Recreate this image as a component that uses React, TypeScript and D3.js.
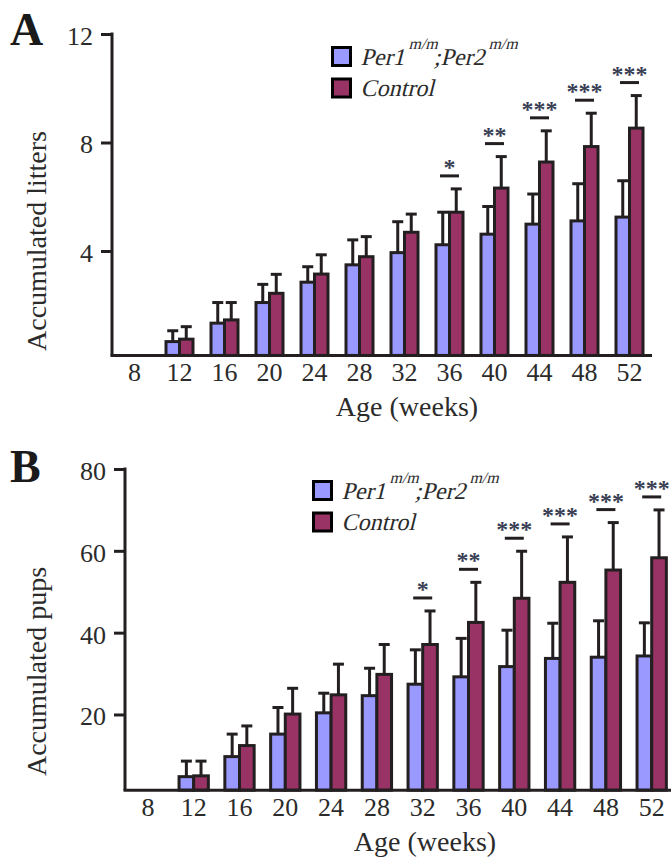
import React, { useEffect, useRef } from 'react';
import * as d3 from 'd3';

// weeks of age
const ages = ['8', '12', '16', '20', '24', '28', '32', '36', '40', '44', '48', '52'];

// panel A: accumulated litters (mean, sem)
const litterMutant = [0, 0.66, 1.34, 2.1, 2.85, 3.49, 3.94, 4.23, 4.62, 4.99, 5.11, 5.25];
const litterMutantSem = [0, 0.4, 0.76, 0.67, 0.57, 0.92, 1.14, 1.2, 1.02, 1.11, 1.37, 1.34];
const litterControl = [0, 0.75, 1.46, 2.44, 3.15, 3.79, 4.69, 5.43, 6.32, 7.28, 7.85, 8.53];
const litterControlSem = [0, 0.46, 0.64, 0.7, 0.71, 0.74, 0.67, 0.86, 1.16, 1.15, 1.23, 1.2];
const litterSig = ['', '', '', '', '', '', '', '*', '**', '***', '***', '***'];
const litterTicks = [4, 8, 12];

// panel B: accumulated pups (mean, sem)
const pupMutant = [0, 4.8, 9.7, 15.2, 20.4, 24.6, 27.4, 29.2, 31.7, 33.7, 34.0, 34.3];
const pupMutantSem = [0, 3.8, 5.5, 6.5, 4.8, 6.7, 8.4, 9.4, 8.9, 8.6, 8.9, 8.1];
const pupControl = [0, 5.0, 12.4, 20.1, 24.8, 29.8, 37.1, 42.5, 48.4, 52.3, 55.3, 58.3];
const pupControlSem = [0, 3.6, 4.8, 6.3, 7.5, 7.3, 8.2, 9.8, 11.5, 11.1, 11.6, 11.7];
const pupSig = ['', '', '', '', '', '', '*', '**', '***', '***', '***', '***'];
const pupTicks = [20, 40, 60, 80];

const MUTANT_COLOR = '#9999ff';
const CONTROL_COLOR = '#993366';
const INK = '#231f20';
const TEXT = '#2b2b2b';
const FONT = "'Liberation Serif', 'DejaVu Serif', serif";

const drawPanel = (svg, p) => {
  const g = svg.append('g').style('font-family', FONT);

  const x = d3.scaleBand()
    .domain(ages)
    .range([p.left, p.right])
    .paddingInner(p.pad)
    .paddingOuter(p.pad / 2);

  const sub = d3.scaleBand()
    .domain(['mutant', 'control'])
    .range([0, x.bandwidth()]);

  const y = d3.scaleLinear()
    .domain([0, p.max])
    .range([p.zeroY, p.topY]);

  const baseY = y(p.floor);

  // y axis ticks + labels
  const yAxis = g.append('g')
    .attr('transform', `translate(${p.left},0)`)
    .call(d3.axisLeft(y).tickValues(p.ticks).tickSize(11).tickPadding(8).tickSizeOuter(0));
  yAxis.select('.domain').remove();
  yAxis.selectAll('line').attr('stroke', INK).attr('stroke-width', 3);
  yAxis.selectAll('text')
    .style('font-family', FONT)
    .style('font-size', '26px')
    .attr('fill', TEXT)
    .attr('dy', '0.4em');

  // x axis labels
  const xAxis = g.append('g')
    .attr('transform', `translate(0,${baseY})`)
    .call(d3.axisBottom(x).tickSize(0).tickPadding(p.xPad));
  xAxis.select('.domain').remove();
  xAxis.selectAll('text')
    .style('font-family', FONT)
    .style('font-size', '26px')
    .attr('fill', TEXT);

  const series = [
    { key: 'mutant', values: p.mutant, sem: p.mutantSem, color: MUTANT_COLOR },
    { key: 'control', values: p.control, sem: p.controlSem, color: CONTROL_COLOR },
  ];

  series.forEach(s => {
    const rows = ages.map((a, i) => ({ age: a, v: s.values[i], e: s.sem[i] })).filter(d => d.v > p.floor);
    const cx = d => x(d.age) + sub(s.key) + sub.bandwidth() / 2;

    // error bars (upper only)
    g.selectAll(`.err-${s.key}`)
      .data(rows)
      .enter().append('line')
      .attr('x1', cx).attr('x2', cx)
      .attr('y1', d => y(d.v)).attr('y2', d => y(d.v + d.e))
      .attr('stroke', INK).attr('stroke-width', 3);
    g.selectAll(`.cap-${s.key}`)
      .data(rows)
      .enter().append('line')
      .attr('x1', d => cx(d) - 5.5).attr('x2', d => cx(d) + 5.5)
      .attr('y1', d => y(d.v + d.e)).attr('y2', d => y(d.v + d.e))
      .attr('stroke', INK).attr('stroke-width', 3);

    g.selectAll(`.bar-${s.key}`)
      .data(rows)
      .enter().append('rect')
      .attr('x', d => x(d.age) + sub(s.key))
      .attr('width', sub.bandwidth())
      .attr('y', d => y(d.v))
      .attr('height', d => baseY - y(d.v))
      .attr('fill', s.color)
      .attr('stroke', INK)
      .attr('stroke-width', 3);
  });

  // significance marks
  const sig = ages.map((a, i) => ({ age: a, s: p.sig[i], top: y(p.control[i] + p.controlSem[i]) })).filter(d => d.s);
  g.selectAll('.sig-line')
    .data(sig)
    .enter().append('line')
    .attr('x1', d => x(d.age) + x.bandwidth() / 2 - 9.5)
    .attr('x2', d => x(d.age) + x.bandwidth() / 2 + 9.5)
    .attr('y1', d => d.top - 13).attr('y2', d => d.top - 13)
    .attr('stroke', INK).attr('stroke-width', 3);
  g.selectAll('.sig-star')
    .data(sig)
    .enter().append('text')
    .attr('x', d => x(d.age) + x.bandwidth() / 2)
    .attr('y', d => d.top - 14)
    .attr('text-anchor', 'middle')
    .style('font-family', FONT)
    .style('font-size', '24px')
    .style('font-weight', 'bold')
    .attr('fill', '#3a3f55')
    .text(d => d.s);

  // axis lines
  g.append('line')
    .attr('x1', p.left).attr('x2', p.left)
    .attr('y1', y(p.max) - 1.5).attr('y2', baseY)
    .attr('stroke', INK).attr('stroke-width', 3);
  g.append('line')
    .attr('x1', p.left - 1.5).attr('x2', p.right)
    .attr('y1', baseY).attr('y2', baseY)
    .attr('stroke', INK).attr('stroke-width', 3);

  // titles
  g.append('text')
    .attr('x', p.xTitle[0]).attr('y', p.xTitle[1])
    .attr('text-anchor', 'middle')
    .style('font-family', FONT)
    .style('font-size', '28px').attr('fill', TEXT)
    .text('Age (weeks)');
  g.append('text')
    .attr('transform', `translate(${p.yTitle[0]},${p.yTitle[1]}) rotate(-90)`)
    .attr('text-anchor', 'middle')
    .style('font-family', FONT)
    .style('font-size', '28px').attr('fill', TEXT)
    .text(p.yLabel);
  g.append('text')
    .attr('x', p.letter[0]).attr('y', p.letter[1])
    .style('font-family', FONT)
    .style('font-size', '46px').style('font-weight', 'bold').attr('fill', '#1a1a1a')
    .text(p.name);

  // legend (serif, slanted by hand)
  const lg = g.append('g').attr('transform', `translate(${p.legend[0]},${p.legend[1]})`);
  [MUTANT_COLOR, CONTROL_COLOR].forEach((c, i) => {
    lg.append('rect')
      .attr('x', 0).attr('y', i * 31.5)
      .attr('width', 18).attr('height', 18)
      .attr('fill', c).attr('stroke', '#000').attr('stroke-width', 3);
  });
  const t1 = lg.append('g')
    .attr('transform', 'translate(28,17) skewX(-14)')
    .append('text')
    .style('font-family', FONT)
    .style('font-style', 'normal')
    .style('font-size', '24px').attr('fill', TEXT);
  t1.append('tspan').text('Per1');
  t1.append('tspan').style('font-size', '16px').attr('dy', -16).text('m/m');
  t1.append('tspan').attr('dy', 16).text(';Per2');
  t1.append('tspan').style('font-size', '16px').attr('dy', -16).text('m/m');
  lg.append('g')
    .attr('transform', `translate(28,${17 + 31.5}) skewX(-14)`)
    .append('text')
    .style('font-family', FONT)
    .style('font-style', 'normal')
    .style('font-size', '24px').attr('fill', TEXT)
    .text('Control');
};

const App = () => {
  const svgRef = useRef(null);

  useEffect(() => {
    const svg = d3.select(svgRef.current);
    svg.selectAll('*').remove();

    drawPanel(svg, {
      name: 'A', letter: [10, 45],
      left: 112, right: 652, pad: 0.4,
      max: 12, zeroY: 359.5, topY: 34, floor: 0.15,
      ticks: litterTicks, xPad: 7,
      mutant: litterMutant, mutantSem: litterMutantSem,
      control: litterControl, controlSem: litterControlSem, sig: litterSig,
      yLabel: 'Accumulated litters', yTitle: [46, 241], xTitle: [407, 416],
      legend: [332.5, 47.5],
    });

    drawPanel(svg, {
      name: 'B', letter: [10, 482],
      left: 125, right: 674.6, pad: 0.36,
      max: 80, zeroY: 796.3, topY: 469, floor: 1.5,
      ticks: pupTicks, xPad: 7,
      mutant: pupMutant, mutantSem: pupMutantSem,
      control: pupControl, controlSem: pupControlSem, sig: pupSig,
      yLabel: 'Accumulated pups', yTitle: [46, 671.5], xTitle: [425, 851],
      legend: [313.5, 481.5],
    });
  }, []);

  return (
    <svg
      ref={svgRef}
      width={671}
      height={863}
      style={{ position: 'absolute', left: 0, top: 0, background: '#fff' }}
    />
  );
};

export default App;
